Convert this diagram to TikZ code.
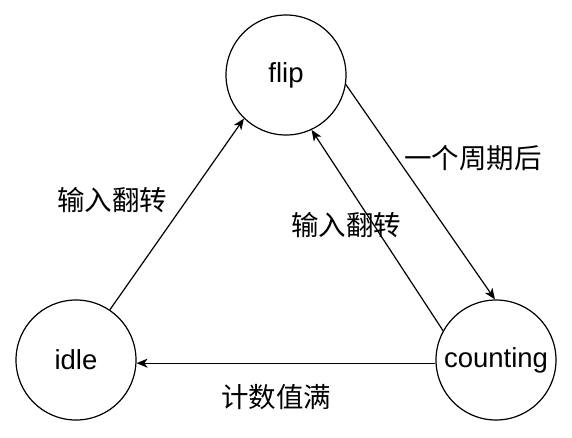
\documentclass[tikz,border=0pt]{standalone}
\usepackage{fontspec}
\setmainfont{Liberation Sans}
\newfontfamily\cjk{Noto Sans CJK SC}
\usetikzlibrary{arrows.meta}
\begin{document}
\begin{tikzpicture}[x=1pt,y=-1pt,
  state/.style={circle,draw,line width=1.2pt,minimum size=120pt,inner sep=0pt,font=\fontsize{27.5pt}{32pt}\selectfont},
  lbl/.style={inner sep=0pt,font=\cjk\fontsize{27.5pt}{32pt}\selectfont},
  edge/.style={line width=1.2pt,-{Stealth[length=11pt,width=9pt,inset=3pt]}}]
\useasboundingbox (0,0) rectangle (572,437);
\node[state] (flip) at (286,75) {flip};
\node[state] (idle) at (76,360) {idle};
\node[state] (counting) at (496,360) {counting};
\draw[edge] (idle.56) -- (flip.226);
\draw[edge] (counting.151) -- (flip.-65);
\draw[edge] (flip.-9) -- (counting.91);
\draw[edge] (counting.183) -- (idle.-3);
\node[lbl] (l1) at (112,200) {输入翻转};
\node[lbl] (l2) at (346,225) {输入翻转};
\node[lbl] (l3) at (473,158) {一个周期后};
\node[lbl] (l4) at (276,397) {计数值满};
\end{tikzpicture}
\end{document}
